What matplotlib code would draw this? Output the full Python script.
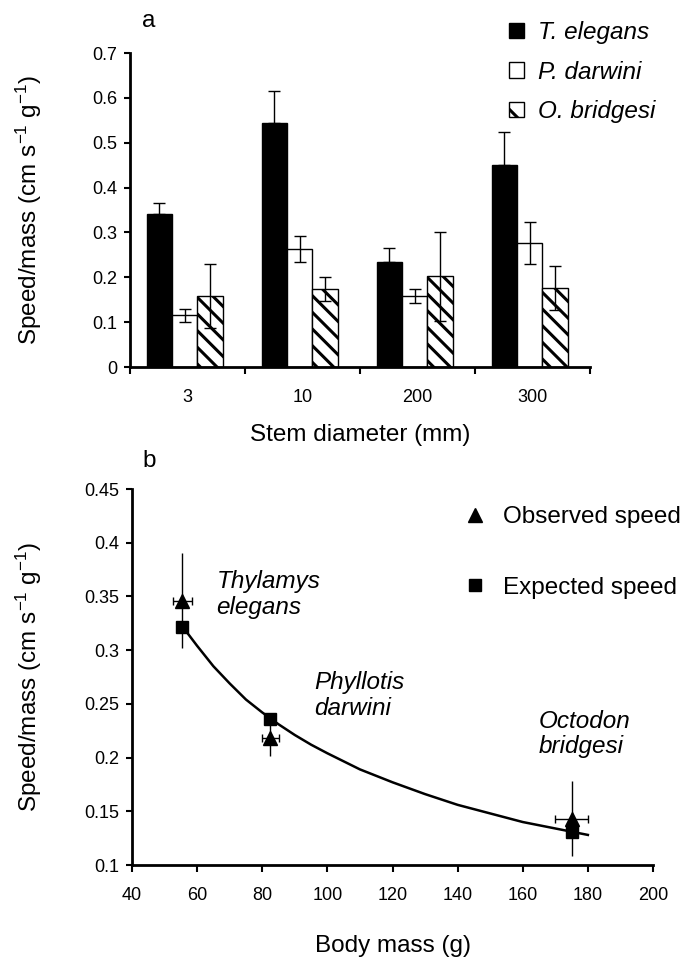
import matplotlib
matplotlib.use("Agg")
import matplotlib.pyplot as plt
import numpy as np
from matplotlib.patches import Patch
from matplotlib.lines import Line2D
from matplotlib.ticker import FixedLocator, FuncFormatter

plt.rcParams['font.family'] = ['Liberation Sans', 'DejaVu Sans']
plt.rcParams['mathtext.fontset'] = 'custom'
plt.rcParams['mathtext.rm'] = 'Liberation Sans'
plt.rcParams['mathtext.it'] = 'Liberation Sans:italic'
plt.rcParams['hatch.linewidth'] = 2.2

# ---------------- data: panel a ----------------
categories = ['3', '10', '200', '300']
species = ['T. elegans', 'P. darwini', 'O. bridgesi']
t_elegans = [0.34, 0.545, 0.235, 0.45]
t_elegans_err = [0.025, 0.07, 0.03, 0.075]
p_darwini = [0.115, 0.263, 0.158, 0.277]
p_darwini_err = [0.015, 0.03, 0.015, 0.047]
o_bridgesi = [0.158, 0.174, 0.202, 0.176]
o_bridgesi_err = [0.071, 0.026, 0.10, 0.049]

# ---------------- data: panel b ----------------
body_mass = [55.5, 82.5, 175.0]
body_mass_err = [2.9, 2.5, 5.0]
observed_speed = [0.346, 0.218, 0.143]
observed_err = [0.044, 0.017, 0.035]
expected_speed = [0.322, 0.236, 0.131]
curve_mass = [55.5, 60, 65, 70, 75, 80, 85, 90, 95, 100, 110, 120, 130, 140,
              150, 160, 170, 180]
curve_speed = [0.322, 0.304, 0.285, 0.269, 0.254, 0.242, 0.231, 0.221, 0.212,
               0.204, 0.189, 0.177, 0.166, 0.156, 0.148, 0.140, 0.134, 0.128]
labels_b = ['Thylamys\nelegans', 'Phyllotis\ndarwini', 'Octodon\nbridgesi']
label_pos_x = [66.0, 96.0, 165.0]
label_pos_y = [0.352, 0.258, 0.222]

W, H = 697, 959
fig = plt.figure(figsize=(W / 100, H / 100), dpi=100)

def fx(px):
    return px / W

def fy(py):
    return 1 - py / H

TICK_FS = 13
LAB_FS = 17.5

# ---------------- panel a ----------------
axa = fig.add_axes([fx(130), fy(367), fx(590) - fx(130), fy(53) - fy(367)])
x = np.arange(len(categories))
bw = 0.22
shift = -0.025
ekw = dict(ecolor='black', elinewidth=1.0, capthick=1.0, capsize=4.5)
axa.bar(x - bw + shift, t_elegans, bw, color='black', edgecolor='black', linewidth=1,
        yerr=[np.zeros(4), t_elegans_err], error_kw=ekw, zorder=2)
axa.bar(x + shift, p_darwini, bw, color='white', edgecolor='black', linewidth=1,
        yerr=p_darwini_err, error_kw=ekw, zorder=2)
axa.bar(x + bw + shift, o_bridgesi, bw, color='white', edgecolor='black', linewidth=1,
        hatch='\\\\', yerr=o_bridgesi_err, error_kw=ekw, zorder=2)
axa.set_xlim(-0.5, 3.5)
axa.set_ylim(0, 0.7)
axa.set_yticks(np.arange(0, 0.71, 0.1))
axa.yaxis.set_major_formatter(FuncFormatter(lambda v, p: '%g' % round(v, 2)))
axa.xaxis.set_major_locator(FixedLocator([-0.5, 0.5, 1.5, 2.5, 3.5]))
axa.xaxis.set_minor_locator(FixedLocator(x))
axa.set_xticklabels([], minor=False)
axa.set_xticklabels(categories, minor=True)
axa.tick_params(axis='x', which='minor', length=0, pad=16, labelsize=TICK_FS)
axa.tick_params(axis='x', which='major', length=5, width=1.5, direction='out')
axa.tick_params(axis='y', length=4, width=1.5, direction='out', pad=5, labelsize=TICK_FS)
for s in ['top', 'right']:
    axa.spines[s].set_visible(False)
for s in ['left', 'bottom']:
    axa.spines[s].set_linewidth(2)
axa.set_xlabel('Stem diameter (mm)', fontsize=LAB_FS, labelpad=13)
axa.set_ylabel('Speed/mass (cm s$^{-1}$ g$^{-1}$)', fontsize=LAB_FS, labelpad=35)

handles_a = [Patch(facecolor='black', edgecolor='black'),
             Patch(facecolor='white', edgecolor='black'),
             Patch(facecolor='white', edgecolor='black', hatch='\\')]
fig.legend(handles_a, species, loc='upper left', bbox_to_anchor=(fx(509), fy(21)),
           frameon=False, prop={'style': 'italic', 'size': LAB_FS},
           handlelength=0.6, handleheight=0.6, handletextpad=0.6,
           labelspacing=0.68, borderpad=0, borderaxespad=0)
fig.text(fx(149), fy(21), 'a', fontsize=LAB_FS, ha='center', va='center')

# ---------------- panel b ----------------
axb = fig.add_axes([fx(132), fy(865), fx(653) - fx(132), fy(489) - fy(865)])
axb.plot(curve_mass, curve_speed, color='black', lw=1.8, zorder=2)
axb.errorbar(body_mass, observed_speed, yerr=observed_err, fmt='none',
             ecolor='black', elinewidth=1.0, capsize=0, zorder=3)
axb.errorbar(body_mass, observed_speed, xerr=body_mass_err, fmt='none',
             ecolor='black', elinewidth=1.0, capsize=3, capthick=1.0, zorder=3)
axb.plot(body_mass, expected_speed, 's', color='black', ms=9, zorder=4,
         label='Expected speed')
axb.plot(body_mass, observed_speed, '^', color='black', ms=10, zorder=5,
         label='Observed speed')
for t, lx, ly in zip(labels_b, label_pos_x, label_pos_y):
    axb.text(lx, ly, t, style='italic', fontsize=LAB_FS, ha='left', va='center',
             linespacing=1.15)
axb.set_xlim(40, 200)
axb.set_ylim(0.1, 0.45)
axb.set_xticks(np.arange(40, 201, 20))
axb.set_yticks(np.arange(0.1, 0.451, 0.05))
axb.yaxis.set_major_formatter(FuncFormatter(lambda v, p: '%g' % round(v, 2)))
axb.tick_params(axis='x', length=5, width=1.5, direction='out', pad=11, labelsize=TICK_FS)
axb.tick_params(axis='y', length=4, width=1.5, direction='out', pad=5, labelsize=TICK_FS)
for s in ['top', 'right']:
    axb.spines[s].set_visible(False)
for s in ['left', 'bottom']:
    axb.spines[s].set_linewidth(2)
axb.set_xlabel('Body mass (g)', fontsize=LAB_FS, labelpad=22)
axb.set_ylabel('Speed/mass (cm s$^{-1}$ g$^{-1}$)', fontsize=LAB_FS, labelpad=29)

handles_b = [Line2D([], [], marker='^', color='black', ls='none', ms=10),
             Line2D([], [], marker='s', color='black', ls='none', ms=9)]
fig.legend(handles_b, ['Observed speed', 'Expected speed'], loc='upper left',
           bbox_to_anchor=(fx(465), fy(506)), frameon=False, fontsize=LAB_FS,
           handlelength=0.8, handletextpad=0.75, labelspacing=2.0,
           borderpad=0, borderaxespad=0)
fig.text(fx(149), fy(461), 'b', fontsize=LAB_FS, ha='center', va='center')

fig.savefig('out.png', dpi=100, facecolor='white')
